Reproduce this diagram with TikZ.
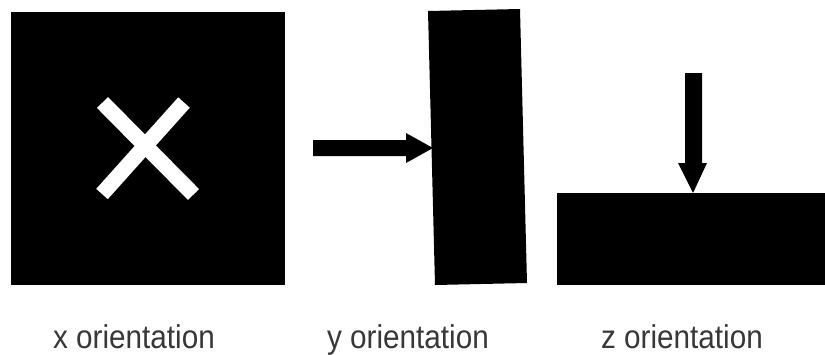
\documentclass[tikz,border=0pt]{standalone}
\usepackage{fontspec}
\setmainfont{Liberation Sans}
\begin{document}
\begin{tikzpicture}[x=1pt,y=-1pt,
  block/.style={fill=black},
  cross/.style={draw=white,line width=15.5pt,line cap=butt},
  label/.style={anchor=base,text=black!78,font=\fontsize{33}{36}\selectfont,xscale=0.9,inner sep=0pt}]
  \useasboundingbox[fill=white] (0,0) rectangle (825,354);

  % x orientation: square face with a cross
  \fill[block] (11,12) rectangle (285,285);
  \draw[cross] (102.5,102.5) -- (193.5,194.5);
  \draw[cross] (184,102.5) -- (102,194);

  % y orientation: slab seen edge-on, pushed from the left
  \fill[block] (428,11) -- (520,9) -- (527,283) -- (435,285) -- cycle;
  \coordinate (ytip) at (433,148);
  \fill[block] (313,140) -- (406,140) -- (406,133) -- (ytip) -- (406,163) -- (406,156) -- (313,156) -- cycle;

  % z orientation: flat slab, pushed from above
  \fill[block] (557,193) rectangle (825,285);
  \coordinate (ztip) at (693,193);
  \fill[block] (685,73) -- (702,73) -- (702,163) -- (707,163) -- (ztip) -- (678,163) -- (685,163) -- cycle;

  % captions
  \node[label] (lx) at (134,348) {x orientation};
  \node[label] (ly) at (408,348) {y orientation};
  \node[label] (lz) at (682,348) {z orientation};
\end{tikzpicture}
\end{document}
